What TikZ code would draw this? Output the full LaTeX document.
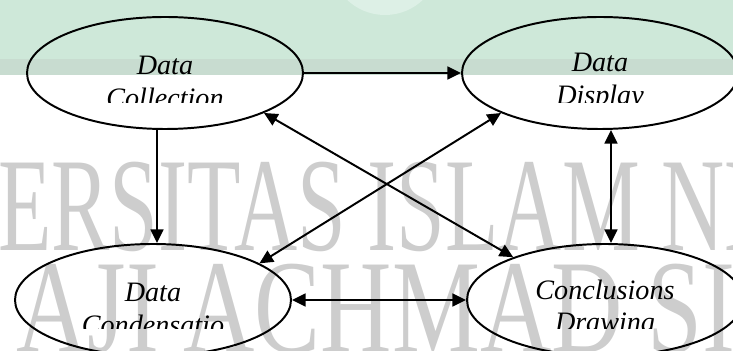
\documentclass[tikz,border=0pt]{standalone}
\usepackage{fontspec}
\setmainfont{Liberation Serif}
\usepackage{tikz}
\usetikzlibrary{positioning,shapes,arrows.meta}
\usepackage{xcolor}
\definecolor{bandgreen}{RGB}{206,232,217}
\definecolor{bandstrip}{RGB}{200,220,208}
\definecolor{bandglow}{RGB}{221,240,230}
\definecolor{markgray}{RGB}{205,205,205}
\tikzstyle{stage}=[ellipse, draw=black, line width=1.4pt, minimum width=6.9cm,
minimum height=2.8cm, inner sep=0pt]
\tikzstyle{stagetext}=[align=center, inner sep=0pt, font=\fontsize{20}{23}\selectfont\itshape]
\tikzstyle{watermark}=[anchor=base west, inner sep=0pt, text=markgray,
font=\fontsize{95}{95}\selectfont]
\tikzstyle{link}=[line width=1.4pt, -{Triangle[length=0.34cm,width=0.32cm]}]
\tikzstyle{duallink}=[line width=1.4pt, {Triangle[length=0.34cm,width=0.32cm]}-{Triangle[length=0.34cm,width=0.32cm]}]

\begin{document}
\begin{tikzpicture}
            \useasboundingbox (0,0) rectangle (18.325,8.775);
            \clip (0,0) rectangle (18.325,8.775);
            % background of the scanned page
            \fill[bandgreen] (0,6.9) rectangle (18.325,8.775);
            \fill[bandstrip] (0,6.9) rectangle (18.325,7.3);
            \fill[bandglow] (9.625,9.775) circle (1.375);
            \node[watermark, xscale=0.655] (wm1) at (-0.05,2.5) {ERSITAS ISLAM NEGERI};
            \node[watermark, xscale=0.74] (wm2) at (0.4,-0.05) {AJI ACHMAD SIDDIQ};

            \node (coll)[stage] at (4.125,6.95) {};
            \node (disp)[stage] at (15.0,6.95) {};
            \node (cond)[stage] at (3.825,1.275) {};
            \node (conc)[stage] at (15.125,1.275) {};

            \begin{scope}
                \clip (0,6.22) rectangle (18.325,8.775);
                \node (coll-t)[stagetext] at ([yshift=-0.22cm]coll.center) {Data\\Collection};
                \node (disp-t)[stagetext] at ([yshift=-0.22cm]disp.center) {Data\\Display};
            \end{scope}
            \begin{scope}
                \clip (0,0.57) rectangle (18.325,3.5);
                \node (cond-t)[stagetext] at ([yshift=-0.22cm]cond.center) {Data\\Condensatio};
                \node (conc-t)[stagetext] at ([yshift=-0.22cm]conc.center) {Conclusions\\Drawing};
            \end{scope}

            \draw[link] (coll.east) -- (disp.west);
            \draw[link] ([xshift=0.1cm]cond.north |- coll.south) -- ([xshift=0.1cm]cond.north);
            \draw[duallink] ([xshift=0.15cm]conc.north |- disp.south) -- ([xshift=0.15cm]conc.north);
            \draw[duallink] (cond.east) -- (conc.west);
            \draw[duallink] (coll.-22) -- (conc.155);
            \draw[duallink] (cond.19) -- (disp.-158);
        \end{tikzpicture}
\end{document}
